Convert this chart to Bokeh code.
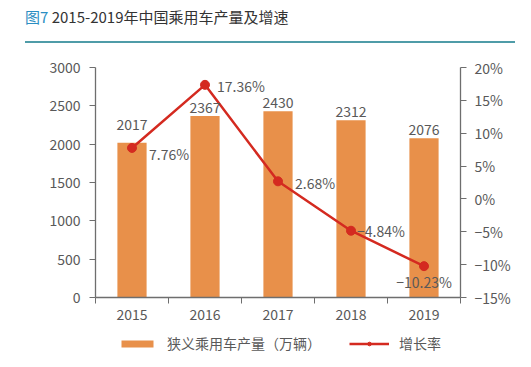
from bokeh.plotting import figure
from bokeh.models import (Range1d, LinearAxis, FixedTicker, Legend, LegendItem,
                          ColumnDataSource, Div)
from bokeh.layouts import column
from bokeh.core.properties import value
from bokeh.embed import file_html
from bokeh.resources import INLINE

# ---- data ----
years = ["2015", "2016", "2017", "2018", "2019"]
output = [2017, 2367, 2430, 2312, 2076]          # 万辆
growth = [7.76, 17.36, 2.68, -4.84, -10.23]      # %
left_ticks = [0, 500, 1000, 1500, 2000, 2500, 3000]
right_ticks = [-15, -10, -5, 0, 5, 10, 15, 20]
series_names = ["狭义乘用车产量（万辆）", "增长率"]

# label styling (offsets in px)
bar_label_dy = [-13, -3, -3, -3, -3]
pct_label_dx = [17, 12, 17, 6, 0]
pct_label_dy = [6, 1, 2, 0, 16]
pct_label_align = ["left", "left", "left", "left", "center"]

FONT = "Noto Sans CJK SC"
GREY = "#595959"
AXIS = "#6e6e6e"
ORANGE = "#E8904A"
RED = "#D42A20"

def fmt_pct(v):
    s = f"{v:.2f}%" if abs(v) % 1 else f"{int(v)}%"
    return s.replace("-", "\u2212")

xc = [i + 0.5 for i in range(len(years))]

src = ColumnDataSource(dict(
    x=xc, out=output, g=growth,
    out_lbl=[str(v) for v in output],
    g_lbl=[fmt_pct(v) for v in growth],
    bdy=bar_label_dy, pdx=pct_label_dx, pdy=pct_label_dy, pal=pct_label_align,
))

title = Div(
    text=('<div style="margin-left:25px;width:490px;height:43px;box-sizing:border-box;'
          'padding-top:8px;border-bottom:2px solid #4f9ca8;font-family:\'Noto Sans CJK SC\';'
          'font-size:15px;font-weight:400;color:#333;line-height:18px;">'
          '<span style="color:#2b8ec2;">图7</span> 2015-2019年中国乘用车产量及增速</div>'),
    width=523, height=48, margin=(0, 0, 0, 0),
)

p = figure(frame_width=365, frame_height=230,
           x_range=Range1d(0, 5), y_range=Range1d(0, 3000),
           output_backend="svg", toolbar_location=None,
           min_border_left=95, min_border_right=63,
           min_border_top=19, min_border_bottom=33)
p.outline_line_color = None
p.grid.grid_line_color = None
p.extra_y_ranges = {"pct": Range1d(-15, 20)}

p.vbar(x="x", top="out", width=0.4, bottom=0, source=src,
       fill_color=ORANGE, line_color=None)
p.line(x="x", y="g", source=src, y_range_name="pct",
       line_color=RED, line_width=2.5)
p.scatter(x="x", y="g", source=src, y_range_name="pct",
          size=9, fill_color=RED, line_color=RED)

p.text(x="x", y="out", text="out_lbl", source=src, text_align="center",
       text_baseline="bottom", y_offset="bdy", text_font=value(FONT),
       text_font_size="14px", text_color=GREY)
p.text(x="x", y="g", text="g_lbl", source=src, y_range_name="pct",
       text_align="pal", text_baseline="middle", x_offset="pdx", y_offset="pdy",
       text_font=value(FONT), text_font_size="14px", text_color=GREY)

def style_axis(ax):
    ax.axis_line_color = AXIS
    ax.axis_line_width = 1.3
    ax.major_tick_line_color = AXIS
    ax.minor_tick_line_color = AXIS
    ax.major_tick_in = 0
    ax.major_tick_out = 6
    ax.minor_tick_in = 0
    ax.minor_tick_out = 0
    ax.major_label_text_font = FONT
    ax.major_label_text_font_size = "14px"
    ax.major_label_text_color = GREY

# x axis: ticks at boundaries (minor), labels at centres (major)
xa = p.xaxis[0]
style_axis(xa)
xa.ticker = FixedTicker(ticks=xc, minor_ticks=list(range(len(years) + 1)))
xa.major_label_overrides = {x: y for x, y in zip(xc, years)}
xa.major_tick_out = 0
xa.minor_tick_out = 6
xa.major_label_standoff = 5

ya = p.yaxis[0]
style_axis(ya)
ya.ticker = FixedTicker(ticks=left_ticks)
ya.major_label_standoff = 9

ra = LinearAxis(y_range_name="pct", ticker=FixedTicker(ticks=right_ticks))
style_axis(ra)
ra.major_label_overrides = {t: fmt_pct(t) for t in right_ticks}
ra.major_label_standoff = 8
p.add_layout(ra, "right")

# ---- legend strip (separate small figure so the legend is not clipped) ----
# its ranges keep the series' own marks just out of view; only the legend shows
q = figure(width=523, height=28, output_backend="svg", toolbar_location=None,
           x_axis_type=None, y_axis_type=None, min_border=0,
           x_range=Range1d(10, 20), y_range=Range1d(5000, 30000))
q.outline_line_color = None
q.grid.grid_line_color = None
lb = q.vbar(x="x", top="out", width=0.4, source=src,
            fill_color=ORANGE, line_color=None)
ll = q.line(x="x", y="g", source=src, line_color=RED, line_width=2.5)
ls = q.scatter(x="x", y="g", source=src, size=9, fill_color=RED, line_color=RED)

legend = Legend(items=[
    LegendItem(label=series_names[0], renderers=[lb]),
    LegendItem(label=series_names[1], renderers=[ll, ls]),
], orientation="horizontal", location=(22, 5))
legend.border_line_color = None
legend.background_fill_alpha = 0
legend.glyph_width = 40
legend.glyph_height = 9
legend.label_height = 14
legend.label_standoff = 10
legend.spacing = 28
legend.padding = 0
legend.margin = 0
legend.label_text_font = FONT
legend.label_text_font_size = "14px"
legend.label_text_color = GREY
q.add_layout(legend)

layout = column(title, p, q, spacing=0)
open("out.html", "w").write(file_html(layout, INLINE))
